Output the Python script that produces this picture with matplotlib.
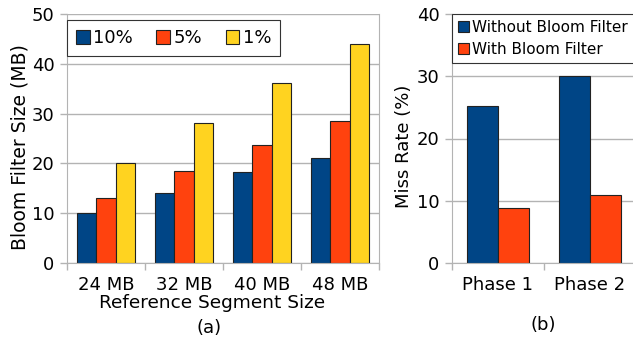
import numpy as np
import matplotlib.pyplot as plt

# data
segments = ["24 MB", "32 MB", "40 MB", "48 MB"]
fp_labels = ["10%", "5%", "1%"]
size_10 = [10.0, 14.1, 18.2, 21.0]
size_5 = [13.0, 18.4, 23.6, 28.5]
size_1 = [20.0, 28.2, 36.2, 44.0]

phases = ["Phase 1", "Phase 2"]
miss_labels = ["Without Bloom Filter", "With Bloom Filter"]
miss_without = [25.2, 30.0]
miss_with = [8.9, 11.0]

blue = "#004586"
orange = "#ff420e"
yellow = "#ffd320"
grid_c = "#b3b3b3"

plt.rcParams['font.family'] = 'DejaVu Sans'
fig = plt.figure(figsize=(6.33, 3.39), dpi=100)

def style(ax, n, ymax, ystep):
    ax.set_xlim(-0.5, n - 0.5)
    ax.set_ylim(0, ymax)
    ax.set_yticks(np.arange(0, ymax + 1, ystep))
    ax.yaxis.grid(True, color=grid_c, lw=1)
    ax.set_axisbelow(True)
    ax.set_xticks(np.arange(n))
    ax.set_xticks(np.arange(n + 1) - 0.5, minor=True)
    ax.tick_params(axis='x', which='major', length=0, pad=9, labelsize=13)
    ax.tick_params(axis='x', which='minor', length=5, color=grid_c, width=1)
    ax.tick_params(axis='y', length=5, color=grid_c, width=1, pad=4, labelsize=13)
    ax.spines['top'].set_visible(False)
    for s in ['left', 'right', 'bottom']:
        ax.spines[s].set_color(grid_c)

# (a) bloom filter size
ax1 = fig.add_axes([67 / 633, 1 - 263 / 339, 312 / 633, 249 / 339])
x = np.arange(len(segments))
w = 0.25
for i, (vals, col) in enumerate(zip([size_10, size_5, size_1], [blue, orange, yellow])):
    ax1.bar(x + (i - 1) * w, vals, w, color=col, edgecolor="#222222", lw=0.8,
            label=fp_labels[i])
style(ax1, len(segments), 50, 10)
ax1.set_xticklabels(segments)
leg1 = ax1.legend(loc='upper left', bbox_to_anchor=(0.0, 0.975), ncol=3, fontsize=13,
                  frameon=True, fancybox=False, edgecolor="#333333", framealpha=1,
                  handlelength=0.75, handleheight=0.75, handletextpad=0.2,
                  columnspacing=1.3, borderpad=0.5, borderaxespad=0)
leg1.get_frame().set_linewidth(0.8)
fig.text(20 / 633, 1 - 147 / 339, "Bloom Filter Size (MB)", rotation=90,
         ha='center', va='center', fontsize=13.5)
fig.text(212 / 633, 1 - 303 / 339, "Reference Segment Size", ha='center', va='center', fontsize=13.3)
fig.text(209 / 633, 1 - 328 / 339, "(a)", ha='center', va='center', fontsize=13)

# (b) miss rate
ax2 = fig.add_axes([452 / 633, 1 - 263 / 339, 184 / 633, 249 / 339])
xp = np.arange(len(phases))
w2 = 0.337
ax2.bar(xp - w2 / 2, miss_without, w2, color=blue, edgecolor="#222222", lw=0.8, label=miss_labels[0])
ax2.bar(xp + w2 / 2, miss_with, w2, color=orange, edgecolor="#222222", lw=0.8, label=miss_labels[1])
style(ax2, len(phases), 40, 10)
ax2.set_xticklabels(phases)
leg2 = ax2.legend(loc='upper left', bbox_to_anchor=(0.0, 1.0), ncol=1, fontsize=11,
                  frameon=True, fancybox=False, edgecolor="#333333", framealpha=1,
                  handlelength=0.7, handleheight=0.7, handletextpad=0.2,
                  labelspacing=0.45, borderpad=0.4, borderaxespad=0)
leg2.get_frame().set_linewidth(0.8)
fig.text(404 / 633, 1 - 146 / 339, "Miss Rate (%)", rotation=90,
         ha='center', va='center', fontsize=13)
fig.text(543 / 633, 1 - 325 / 339, "(b)", ha='center', va='center', fontsize=13)

fig.savefig("out.png", dpi=100)
